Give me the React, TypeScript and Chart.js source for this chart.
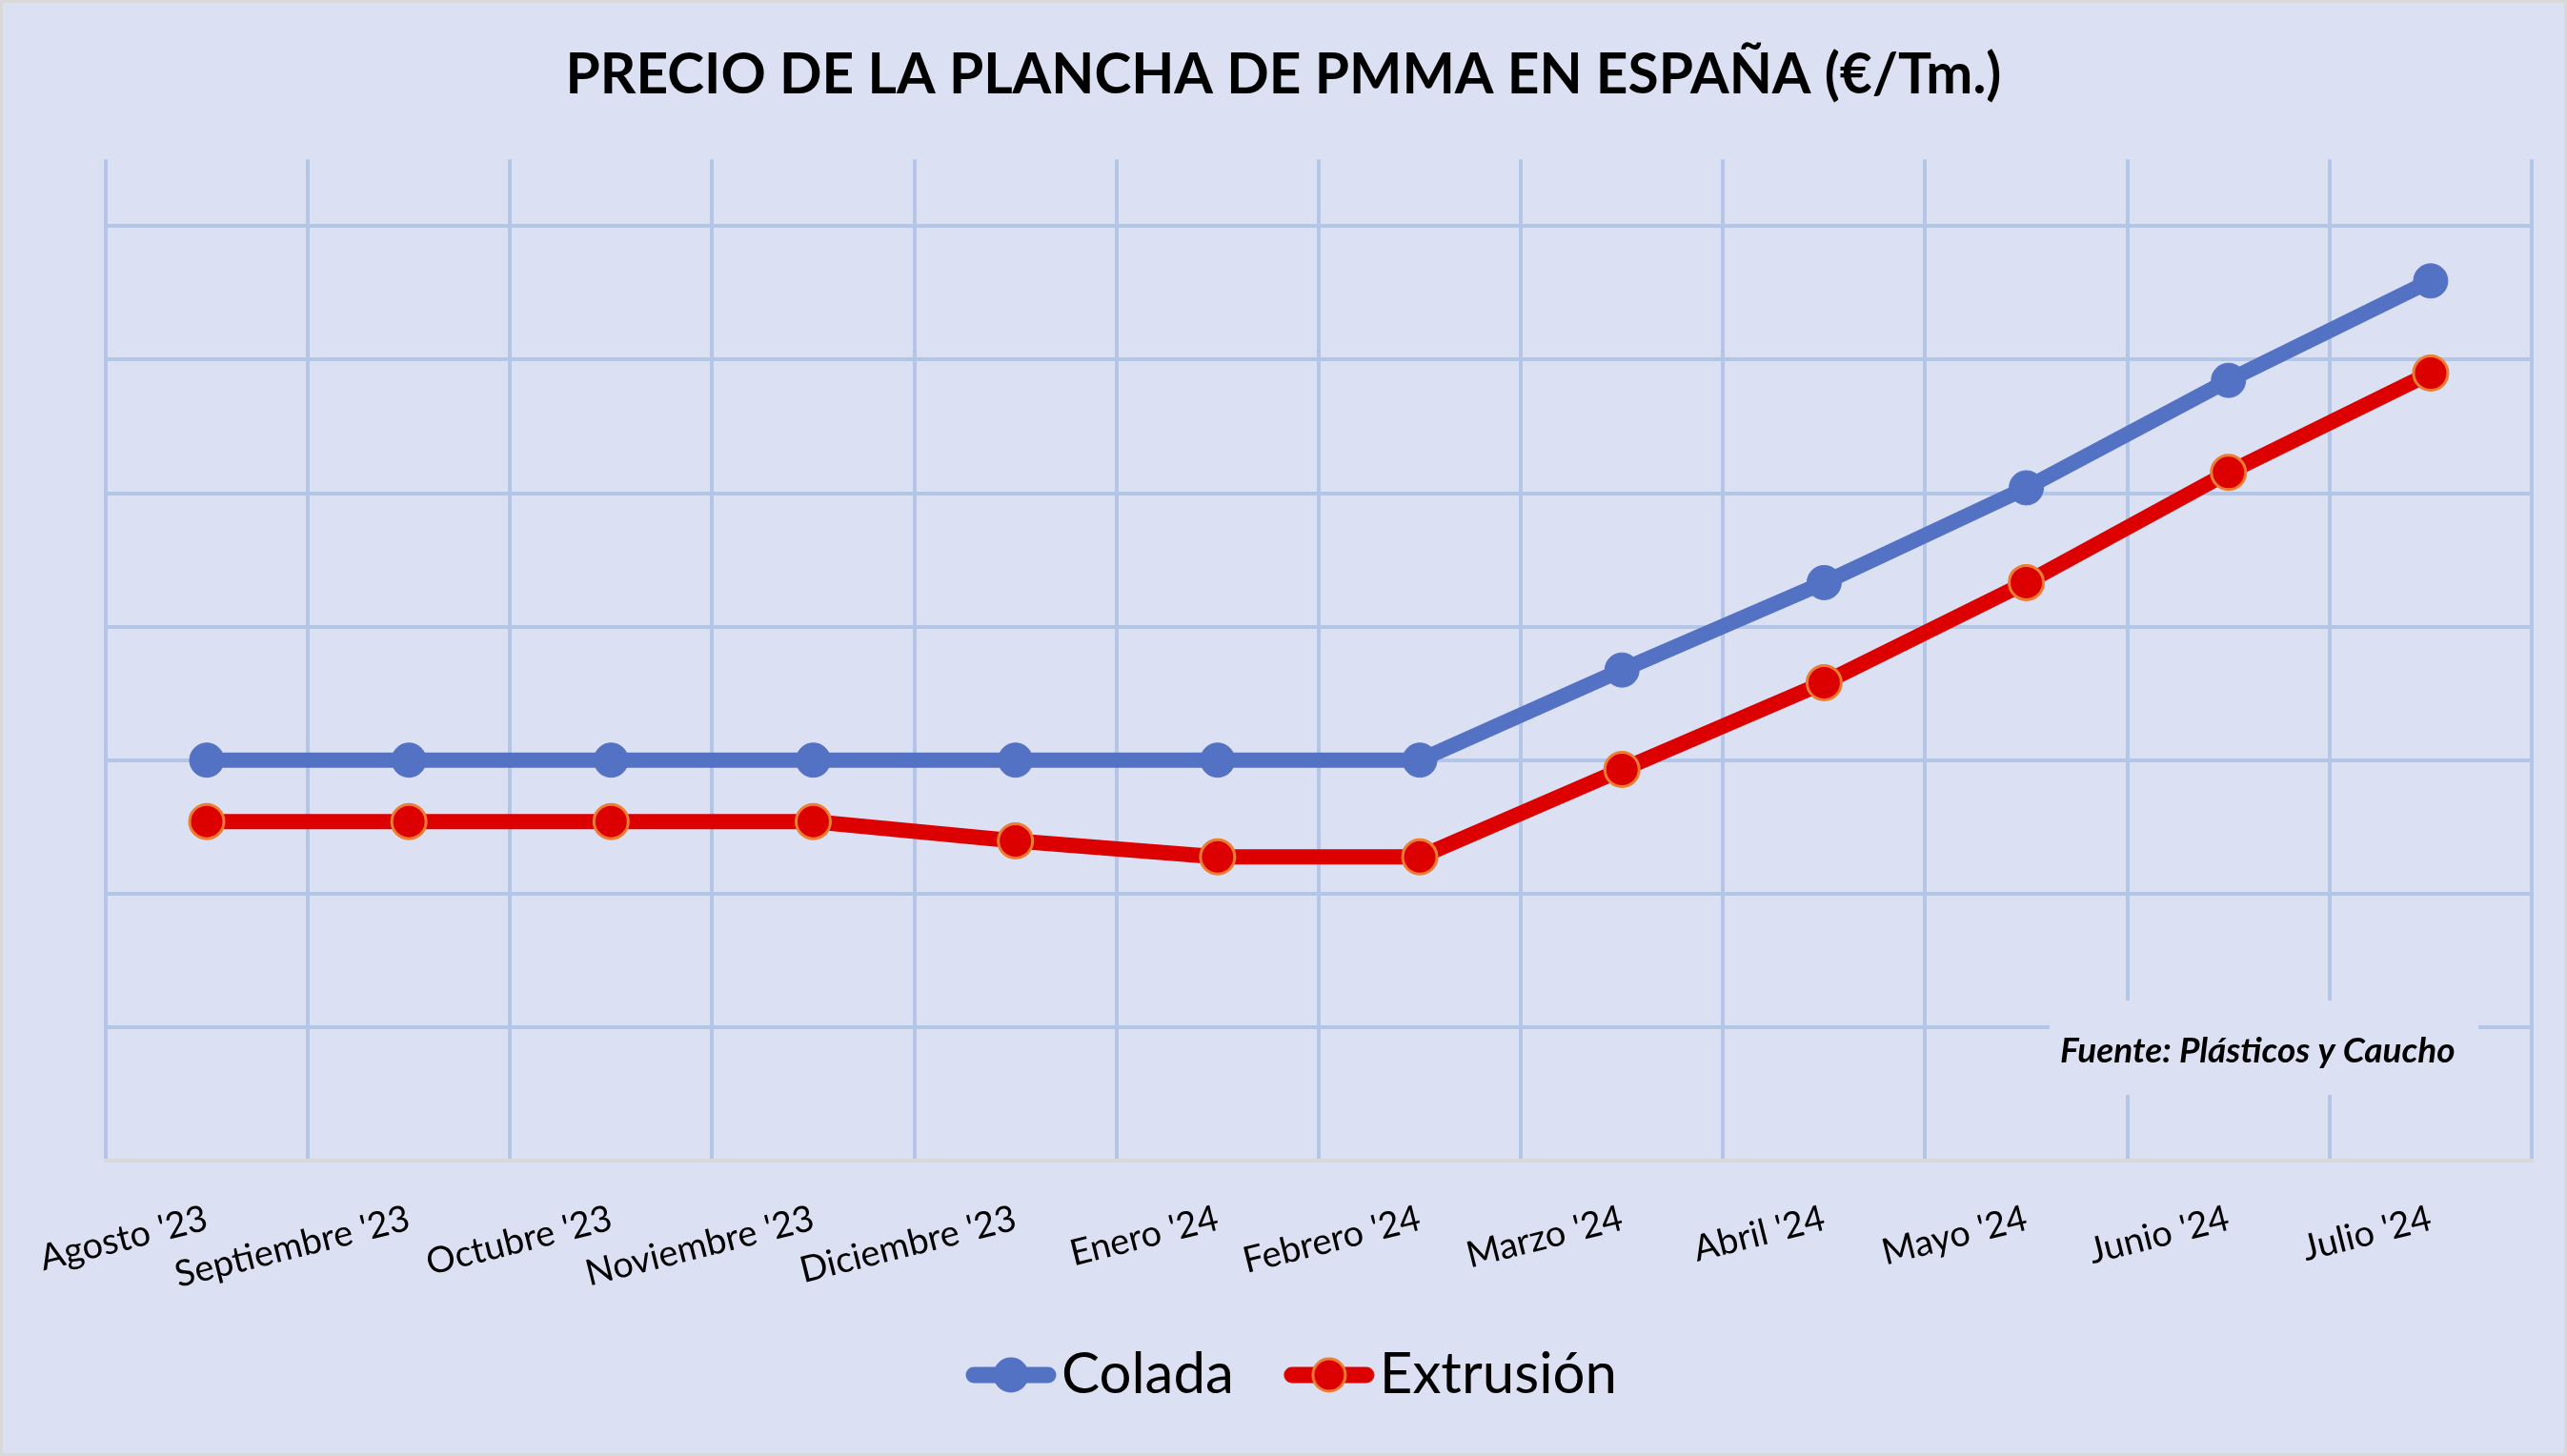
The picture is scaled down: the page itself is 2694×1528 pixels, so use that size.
import React, { useEffect, useRef } from 'react';
import { Chart, registerables } from 'chart.js';

Chart.register(...registerables);

const meses = [
  "Agosto '23", "Septiembre '23", "Octubre '23", "Noviembre '23", "Diciembre '23", "Enero '24",
  "Febrero '24", "Marzo '24", "Abril '24", "Mayo '24", "Junio '24", "Julio '24",
];
// €/Tm (the axis values are not shown)
const colada = [2600, 2600, 2600, 2600, 2600, 2600, 2600, 2735, 2866, 3008, 3169, 3318];
const extrusion = [2508, 2508, 2508, 2508, 2479, 2455, 2455, 2586, 2716, 2866, 3031, 3180];
const yMin = 2000;
const yMax = 3500;
const yPaso = 200;

const titulo = 'PRECIO DE LA PLANCHA DE PMMA EN ESPAÑA (€/Tm.)';
const fuente = 'Fuente: Plásticos y Caucho';

const FONDO = '#DBE1F2';
const REJILLA = '#B4C6E7';
const AZUL = '#5472C4';
const ROJO = '#DD0000';
const NARANJA = '#ED7D31';

const LEYENDA_FS = 60;
const LEYENDA_PAD = 36;
const LEYENDA_BOX = 87;

// line + marker swatch for the legend, drawn at the right end of the image
// so it sits right next to its text
function simbolo(linea: string, relleno: string, borde: string) {
  const c = document.createElement('canvas');
  c.width = LEYENDA_BOX + 50;
  c.height = 40;
  const x0 = c.width - 96;
  const ctx = c.getContext('2d')!;
  ctx.strokeStyle = linea;
  ctx.lineWidth = 17;
  ctx.lineCap = 'round';
  ctx.beginPath();
  ctx.moveTo(x0 + 9, 20);
  ctx.lineTo(x0 + 87, 20);
  ctx.stroke();
  ctx.beginPath();
  ctx.arc(x0 + 48, 20, 17, 0, Math.PI * 2);
  ctx.fillStyle = relleno;
  ctx.fill();
  ctx.lineWidth = 3;
  ctx.strokeStyle = borde;
  ctx.stroke();
  return c;
}

const fuentePlugin = {
  id: 'fuente',
  beforeDatasetsDraw(chart: any) {
    const ctx = chart.ctx;
    ctx.save();
    ctx.fillStyle = FONDO;
    ctx.fillRect(2151, 1050, 450, 99);
    ctx.fillStyle = '#000';
    ctx.font = 'italic bold 37px Lato';
    ctx.textBaseline = 'middle';
    ctx.textAlign = 'left';
    ctx.fillText(fuente, 2162, 1103);
    ctx.restore();
  },
};

const App: React.FC = () => {
  const chartRef = useRef<HTMLCanvasElement>(null);
  const chartInstance = useRef<Chart | null>(null);

  useEffect(() => {
    if (!chartRef.current) return;
    const ctx = chartRef.current.getContext('2d');
    if (!ctx) return;
    const simbolos = [simbolo(AZUL, AZUL, AZUL), simbolo(ROJO, ROJO, NARANJA)];

    chartInstance.current = new Chart(ctx, {
      type: 'line',
      data: {
        labels: meses,
        datasets: [
          {
            label: 'Colada',
            data: colada,
            borderColor: AZUL,
            backgroundColor: AZUL,
            borderWidth: 16,
            pointRadius: 18,
            pointBackgroundColor: AZUL,
            pointBorderColor: AZUL,
            pointBorderWidth: 1,
            borderJoinStyle: 'round',
            borderCapStyle: 'round',
          },
          {
            label: 'Extrusión',
            data: extrusion,
            borderColor: ROJO,
            backgroundColor: ROJO,
            borderWidth: 16,
            pointRadius: 18,
            pointBackgroundColor: ROJO,
            pointBorderColor: NARANJA,
            pointBorderWidth: 3,
            borderJoinStyle: 'round',
            borderCapStyle: 'round',
          },
        ],
      },
      options: {
        responsive: true,
        maintainAspectRatio: false,
        animation: false,
        layout: { padding: { left: 37, right: 37, top: 0, bottom: 45 } },
        font: { family: 'Lato' },
        scales: {
          x: {
            offset: true,
            grid: { offset: true, color: REJILLA, lineWidth: 4, drawTicks: false },
            border: { display: true, color: '#D9D9D9', width: 4 },
            ticks: {
              autoSkip: false,
              minRotation: 14,
              maxRotation: 14,
              padding: 38,
              color: '#000',
              font: { family: 'Lato', size: 38 },
            },
            afterFit: (scale: any) => {
              scale.height = 159;
            },
          },
          y: {
            min: yMin,
            max: yMax,
            grid: {
              color: (c: any) => (c.tick && c.tick.value === yMin ? 'rgba(0,0,0,0)' : REJILLA),
              lineWidth: 4,
              drawTicks: false,
            },
            border: { display: false },
            ticks: { display: false, stepSize: yPaso, includeBounds: false },
            afterFit: (scale: any) => {
              scale.width = 71;
            },
          },
        },
        plugins: {
          title: {
            display: true,
            text: titulo,
            color: '#000',
            font: { family: 'Lato', size: 58.6, weight: 'bold' },
            padding: { top: 44, bottom: 53 },
          },
          legend: {
            position: 'bottom',
            labels: {
              usePointStyle: true,
              pointStyleWidth: LEYENDA_BOX,
              padding: LEYENDA_PAD,
              color: '#000',
              font: { family: 'Lato', size: LEYENDA_FS },
              generateLabels: (chart: any) =>
                chart.data.datasets.map((ds: any, i: number) => ({
                  text: ds.label,
                  pointStyle: simbolos[i],
                  fillStyle: ds.borderColor,
                  strokeStyle: ds.borderColor,
                  lineWidth: 0,
                  hidden: false,
                  datasetIndex: i,
                  fontColor: '#000',
                })),
            },
          },
          tooltip: { enabled: false },
        },
      },
      plugins: [fuentePlugin],
    } as any);

    return () => {
      if (chartInstance.current) {
        chartInstance.current.destroy();
        chartInstance.current = null;
      }
    };
  }, []);

  return (
    <div
      style={{
        position: 'fixed',
        left: 0,
        top: 0,
        width: 2694,
        height: 1528,
        background: FONDO,
        boxShadow: 'inset 0 0 0 3px #D9D9D9',
      }}
    >
      <canvas ref={chartRef}></canvas>
    </div>
  );
};

export default App;
